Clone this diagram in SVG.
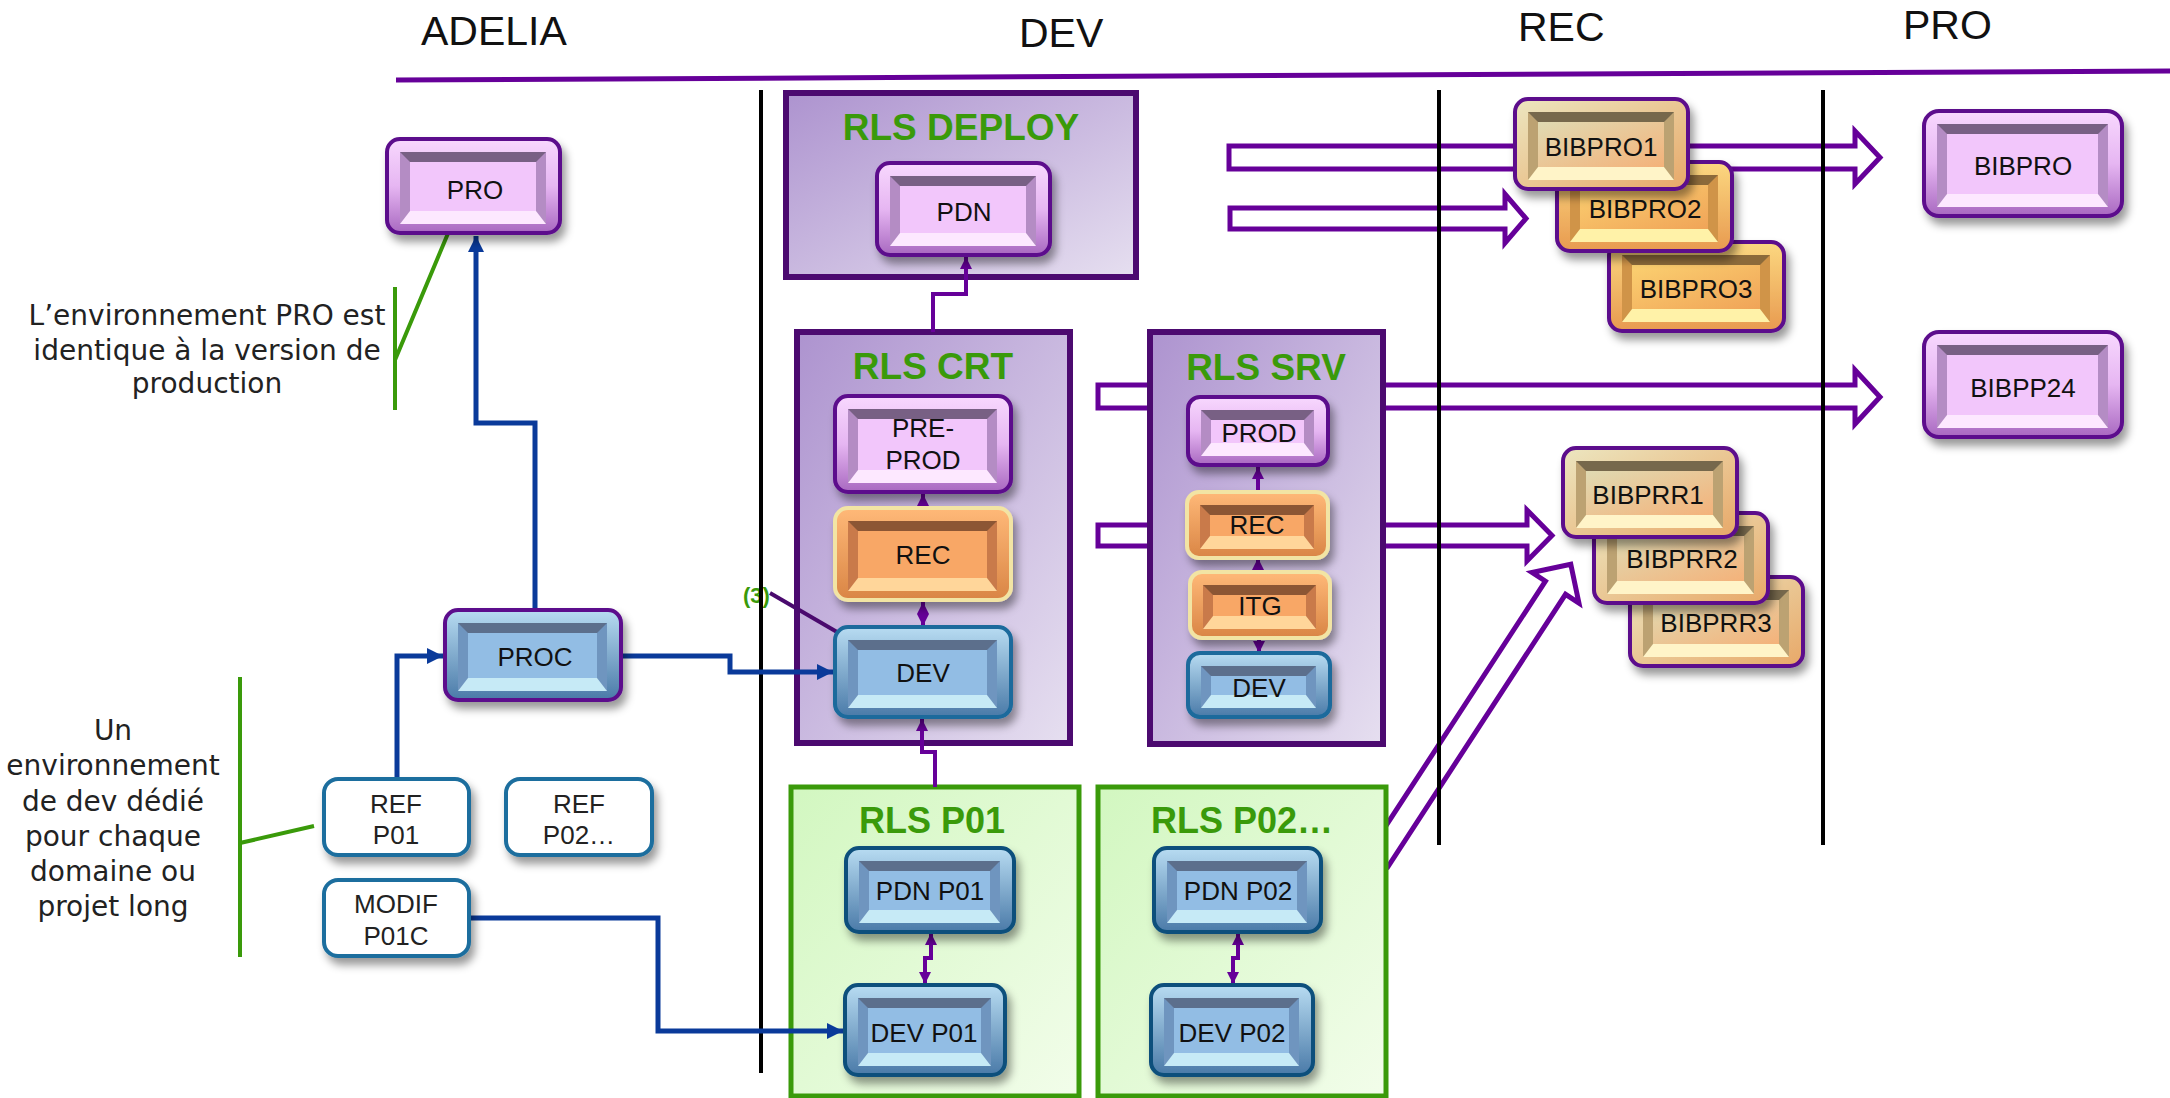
<svg xmlns="http://www.w3.org/2000/svg" width="2170" height="1098" viewBox="0 0 2170 1098">
<defs>
<style>
.hdr{font-family:"Liberation Sans",Arial,sans-serif;font-size:41px;fill:#111}
.ann{font-family:"DejaVu Sans",sans-serif;font-size:28px;fill:#222;text-anchor:middle}
.ttl{font-family:"Liberation Sans",Arial,sans-serif;font-weight:bold;font-size:37px;fill:#3a9a0a;text-anchor:middle}
.ttl2{font-size:36px}
.lbl{font-family:"Liberation Sans",Arial,sans-serif;font-size:26px;fill:#111;text-anchor:middle}
.box{fill:url(#gBox);stroke:#4c0a70;stroke-width:6}
.gbox{fill:url(#gGreen);stroke:#3a9a0a;stroke-width:5}
.o{stroke-width:4;filter:url(#sh)}
.pk .o{fill:url(#gPkO);stroke:#5c0a8c}
.pk .s{fill:#b48cc4}.pk .t{fill:#786084}.pk .b{fill:#fde8ff}.pk .f{fill:#f2c6fb}
.bl .o{fill:url(#gBlO);stroke:#1a6a9c}
.bl .s{fill:#6f95bf}.bl .t{fill:#5c6f8c}.bl .b{fill:#c6eaf6}.bl .f{fill:#92bde4}
.bd .o{stroke:#0c4f7c}
.bp .o{stroke:#5c0a8c}
.or .o{fill:url(#gOrO);stroke:#f2e4a4}
.or .s{fill:#c97a4a}.or .t{fill:#8c5634}.or .b{fill:#ffd69a}.or .f{fill:#f8a766}
.gd .o{fill:url(#gGdO);stroke:#5c0a8c}
.gd .s{fill:#d09448}.gd .t{fill:#8c6a3a}.gd .b{fill:#fff2a8}.gd .f{fill:url(#gGdF)}
.be .o{fill:url(#gBeO);stroke:#5c0a8c}
.be .s{fill:#bca272}.be .t{fill:#76684c}.be .b{fill:#fff4c8}.be .f{fill:url(#gBeF)}
.ref .o{fill:#fff;stroke:#1d6e9e}
.ref text{fill:#222}
.flow{fill:#fff;stroke:#660099;stroke-width:5}
.pc{fill:none;stroke:#660099;stroke-width:4}
.bc{fill:none;stroke:#0a3a9a;stroke-width:5}
.gl{fill:none;stroke:#3a9a0a;stroke-width:4}
.vl{stroke:#000;stroke-width:4}
</style>
<filter id="sh" x="-20%" y="-20%" width="150%" height="160%">
<feDropShadow dx="4" dy="7" stdDeviation="4" flood-color="#000" flood-opacity="0.4"/>
</filter>
<linearGradient id="gBox" x1="0" y1="0" x2="1" y2="1"><stop offset="0" stop-color="#ad93cf"/><stop offset="1" stop-color="#e6dff0"/></linearGradient>
<linearGradient id="gGreen" x1="0" y1="0" x2="1" y2="1"><stop offset="0" stop-color="#d2f7c0"/><stop offset="1" stop-color="#f2fdea"/></linearGradient>
<linearGradient id="gPkO" x1="0" y1="0" x2="0" y2="1"><stop offset="0" stop-color="#f8d8fe"/><stop offset="0.5" stop-color="#e6b6f2"/><stop offset="1" stop-color="#a868c0"/></linearGradient>
<linearGradient id="gBlO" x1="0" y1="0" x2="0" y2="1"><stop offset="0" stop-color="#b8dcf2"/><stop offset="1" stop-color="#4a7aa8"/></linearGradient>
<linearGradient id="gOrO" x1="0" y1="0" x2="0" y2="1"><stop offset="0" stop-color="#ffb978"/><stop offset="1" stop-color="#d98545"/></linearGradient>
<linearGradient id="gGdO" x1="0" y1="0" x2="0" y2="1"><stop offset="0" stop-color="#fcd880"/><stop offset="1" stop-color="#e89a50"/></linearGradient>
<linearGradient id="gGdF" x1="0" y1="0" x2="1" y2="1"><stop offset="0" stop-color="#fbd070"/><stop offset="1" stop-color="#f0a458"/></linearGradient>
<linearGradient id="gBeO" x1="0" y1="0" x2="1" y2="1"><stop offset="0" stop-color="#ece6c0"/><stop offset="1" stop-color="#e8a868"/></linearGradient>
<linearGradient id="gBeF" x1="0" y1="0" x2="1" y2="1"><stop offset="0" stop-color="#e0dab2"/><stop offset="1" stop-color="#f4b27a"/></linearGradient>
<marker id="ap" markerUnits="userSpaceOnUse" markerWidth="12" markerHeight="12" refX="12" refY="6" orient="auto-start-reverse"><path d="M0,0 L12,6 L0,12 z" fill="#660099"/></marker>
<marker id="ab" markerUnits="userSpaceOnUse" markerWidth="16" markerHeight="16" refX="16" refY="8" orient="auto"><path d="M0,0 L16,8 L0,16 z" fill="#0a3a9a"/></marker>
</defs>
<rect width="2170" height="1098" fill="#fff"/>

<g id="header">
<line x1="396" y1="80" x2="2170" y2="71" stroke="#660099" stroke-width="5"/>
<text class="hdr" x="421" y="45">ADELIA</text>
<text class="hdr" x="1019" y="47">DEV</text>
<text class="hdr" x="1518" y="41">REC</text>
<text class="hdr" x="1903" y="39">PRO</text>
</g>

<g id="flow-arrows">
<polygon class="flow" points="1229,146 1855,146 1855,131 1880,157.5 1855,184 1855,169 1229,169"/>
<polygon class="flow" points="1230,208 1505,208 1505,194 1526,218.5 1505,243 1505,229 1230,229"/>
<polygon class="flow" points="1098,385 1855,385 1855,370 1880,397 1855,424 1855,408 1098,408"/>
<polygon class="flow" points="1098,525 1527,525 1527,510 1552,535.5 1527,561 1527,546 1098,546"/>
<polygon class="flow" transform="translate(1378,860) rotate(-56.9)" points="0,-12 325,-12 325,-28 353,0 325,28 325,12 0,12"/>
</g>

<g id="annotations">
<path class="gl" d="M395 287 V410 M395 360 L449 231"/>
<path class="gl" d="M240 677 V957 M240 843 L314 826"/>
<text class="ann" x="207" y="325">L’environnement PRO est</text>
<text class="ann" x="207" y="360">identique à la version de</text>
<text class="ann" x="207" y="393">production</text>
<text class="ann" x="113" y="740">Un</text>
<text class="ann" x="113" y="775">environnement</text>
<text class="ann" x="113" y="811">de dev dédié</text>
<text class="ann" x="113" y="846">pour chaque</text>
<text class="ann" x="113" y="881">domaine ou</text>
<text class="ann" x="113" y="916">projet long</text>
<text x="743" y="603" font-family="Liberation Sans, Arial, sans-serif" font-weight="bold" font-size="22" fill="#3a9a0a">(3)</text>
</g>

<g id="lanes">
<line class="vl" x1="761" y1="90" x2="761" y2="1073"/>
<line class="vl" x1="1439" y1="90" x2="1439" y2="845"/>
<line class="vl" x1="1823" y1="90" x2="1823" y2="845"/>
</g>

<g id="rls-deploy"><rect class="box" x="786" y="93" width="350" height="184"/><text class="ttl" x="961" y="140">RLS DEPLOY</text></g>
<g id="rls-crt"><rect class="box" x="797" y="332" width="273" height="411"/><text class="ttl" x="933" y="379">RLS CRT</text></g>
<g id="rls-srv"><rect class="box" x="1150" y="332" width="233" height="412"/><text class="ttl" x="1266" y="380">RLS SRV</text></g>
<g id="rls-p01"><rect class="gbox" x="791" y="787" width="288" height="309"/><text class="ttl ttl2" x="932" y="833">RLS P01</text></g>
<g id="rls-p02"><rect class="gbox" x="1098" y="787" width="288" height="309"/><text class="ttl ttl2" x="1242" y="833">RLS P02…</text></g>

<g id="connectors">
<path class="bc" d="M535 610 V423 H476 V236" marker-end="url(#ab)"/>
<path class="bc" d="M397 779 V656 H443" marker-end="url(#ab)"/>
<path class="bc" d="M621 656 H730 V672 H833" marker-end="url(#ab)"/>
<path class="bc" d="M469 918 H658 V1031 H843" marker-end="url(#ab)"/>
<path class="pc" d="M933 332 V294 H966 V257" marker-end="url(#ap)"/>
<path class="pc" d="M935 787 V752 H922 V719" marker-end="url(#ap)"/>
<path class="pc" d="M923 508 V494" marker-end="url(#ap)"/>
<path class="pc" d="M923 602 V626" marker-start="url(#ap)" marker-end="url(#ap)"/>
<path class="pc" d="M1258 492 V467" marker-end="url(#ap)"/>
<path class="pc" d="M1258 572 V558" marker-end="url(#ap)"/>
<path class="pc" d="M1259 638 V653" marker-end="url(#ap)"/>
<path class="pc" d="M931 933 V958 H925 V984" marker-start="url(#ap)" marker-end="url(#ap)"/>
<path class="pc" d="M1238 933 V958 H1233 V984" marker-start="url(#ap)" marker-end="url(#ap)"/>
<line x1="770" y1="593" x2="837" y2="632" stroke="#4a0a6e" stroke-width="4"/>
</g>

<g id="n-pro" class="pk">
<rect class="o" x="387" y="139" width="173" height="94" rx="13"/>
<rect class="s" x="400" y="152" width="146" height="72"/>
<polygon class="t" points="400,152 546,152 536,162 410,162"/>
<polygon class="b" points="400,224 546,224 536,211 410,211"/>
<rect class="f" x="410" y="162" width="126" height="49"/>
<text class="lbl" x="475" y="199">PRO</text>
</g>

<g id="n-pdn" class="pk">
<rect class="o" x="877" y="163" width="173" height="92" rx="13"/>
<rect class="s" x="890" y="176" width="146" height="70"/>
<polygon class="t" points="890,176 1036,176 1026,186 900,186"/>
<polygon class="b" points="890,246 1036,246 1026,233 900,233"/>
<rect class="f" x="900" y="186" width="126" height="47"/>
<text class="lbl" x="964" y="221">PDN</text>
</g>

<g id="n-preprod" class="pk">
<rect class="o" x="835" y="396" width="176" height="96" rx="13"/>
<rect class="s" x="848" y="409" width="149" height="74"/>
<polygon class="t" points="848,409 997,409 987,419 858,419"/>
<polygon class="b" points="848,483 997,483 987,470 858,470"/>
<rect class="f" x="858" y="419" width="129" height="51"/>
<text class="lbl" x="923" y="437">PRE-</text>
<text class="lbl" x="923" y="469">PROD</text>
</g>

<g id="n-rec-crt" class="or">
<rect class="o" x="835" y="508" width="176" height="92" rx="13"/>
<rect class="s" x="848" y="521" width="149" height="70"/>
<polygon class="t" points="848,521 997,521 987,531 858,531"/>
<polygon class="b" points="848,591 997,591 987,578 858,578"/>
<rect class="f" x="858" y="531" width="129" height="47"/>
<text class="lbl" x="923" y="564">REC</text>
</g>

<g id="n-dev-crt" class="bl">
<rect class="o" x="835" y="627" width="176" height="90" rx="13"/>
<rect class="s" x="848" y="640" width="149" height="68"/>
<polygon class="t" points="848,640 997,640 987,650 858,650"/>
<polygon class="b" points="848,708 997,708 987,695 858,695"/>
<rect class="f" x="858" y="650" width="129" height="45"/>
<text class="lbl" x="923" y="682">DEV</text>
</g>

<g id="n-proc" class="bl bp">
<rect class="o" x="445" y="610" width="176" height="90" rx="13"/>
<rect class="s" x="458" y="623" width="149" height="68"/>
<polygon class="t" points="458,623 607,623 597,633 468,633"/>
<polygon class="b" points="458,691 607,691 597,678 468,678"/>
<rect class="f" x="468" y="633" width="129" height="45"/>
<text class="lbl" x="535" y="666">PROC</text>
</g>

<g id="n-prod-srv" class="pk">
<rect class="o" x="1188" y="397" width="140" height="68" rx="12"/>
<rect class="s" x="1201" y="410" width="113" height="46"/>
<polygon class="t" points="1201,410 1314,410 1304,420 1211,420"/>
<polygon class="b" points="1201,456 1314,456 1304,443 1211,443"/>
<rect class="f" x="1211" y="420" width="93" height="23"/>
<text class="lbl" x="1259" y="442">PROD</text>
</g>

<g id="n-rec-srv" class="or">
<rect class="o" x="1187" y="492" width="141" height="66" rx="12"/>
<rect class="s" x="1200" y="505" width="114" height="44"/>
<polygon class="t" points="1200,505 1314,505 1304,515 1210,515"/>
<polygon class="b" points="1200,549 1314,549 1304,536 1210,536"/>
<rect class="f" x="1210" y="515" width="94" height="21"/>
<text class="lbl" x="1257" y="534">REC</text>
</g>

<g id="n-itg" class="or">
<rect class="o" x="1190" y="572" width="140" height="66" rx="12"/>
<rect class="s" x="1203" y="585" width="113" height="44"/>
<polygon class="t" points="1203,585 1316,585 1306,595 1213,595"/>
<polygon class="b" points="1203,629 1316,629 1306,616 1213,616"/>
<rect class="f" x="1213" y="595" width="93" height="21"/>
<text class="lbl" x="1260" y="615">ITG</text>
</g>

<g id="n-dev-srv" class="bl">
<rect class="o" x="1188" y="653" width="142" height="64" rx="12"/>
<rect class="s" x="1201" y="666" width="115" height="42"/>
<polygon class="t" points="1201,666 1316,666 1306,676 1211,676"/>
<polygon class="b" points="1201,708 1316,708 1306,695 1211,695"/>
<rect class="f" x="1211" y="676" width="95" height="19"/>
<text class="lbl" x="1259" y="697">DEV</text>
</g>

<g id="n-bibpro3" class="gd">
<rect class="o" x="1609" y="242" width="175" height="89" rx="13"/>
<rect class="s" x="1622" y="255" width="148" height="67"/>
<polygon class="t" points="1622,255 1770,255 1760,265 1632,265"/>
<polygon class="b" points="1622,322 1770,322 1760,309 1632,309"/>
<rect class="f" x="1632" y="265" width="128" height="44"/>
<text class="lbl" x="1696" y="298">BIBPRO3</text>
</g>

<g id="n-bibpro2" class="gd">
<rect class="o" x="1557" y="162" width="175" height="89" rx="13"/>
<rect class="s" x="1570" y="175" width="148" height="67"/>
<polygon class="t" points="1570,175 1718,175 1708,185 1580,185"/>
<polygon class="b" points="1570,242 1718,242 1708,229 1580,229"/>
<rect class="f" x="1580" y="185" width="128" height="44"/>
<text class="lbl" x="1645" y="218">BIBPRO2</text>
</g>

<g id="n-bibpro1" class="be">
<rect class="o" x="1515" y="99" width="173" height="90" rx="13"/>
<rect class="s" x="1528" y="112" width="146" height="68"/>
<polygon class="t" points="1528,112 1674,112 1664,122 1538,122"/>
<polygon class="b" points="1528,180 1674,180 1664,167 1538,167"/>
<rect class="f" x="1538" y="122" width="126" height="45"/>
<text class="lbl" x="1601" y="156">BIBPRO1</text>
</g>

<g id="n-bibpro" class="pk">
<rect class="o" x="1924" y="111" width="198" height="105" rx="15"/>
<rect class="s" x="1937" y="124" width="171" height="83"/>
<polygon class="t" points="1937,124 2108,124 2098,134 1947,134"/>
<polygon class="b" points="1937,207 2108,207 2098,194 1947,194"/>
<rect class="f" x="1947" y="134" width="151" height="60"/>
<text class="lbl" x="2023" y="175">BIBPRO</text>
</g>

<g id="n-bibpp24" class="pk">
<rect class="o" x="1924" y="332" width="198" height="105" rx="15"/>
<rect class="s" x="1937" y="345" width="171" height="83"/>
<polygon class="t" points="1937,345 2108,345 2098,355 1947,355"/>
<polygon class="b" points="1937,428 2108,428 2098,415 1947,415"/>
<rect class="f" x="1947" y="355" width="151" height="60"/>
<text class="lbl" x="2023" y="397">BIBPP24</text>
</g>

<g id="n-bibprr3" class="be">
<rect class="o" x="1630" y="577" width="173" height="89" rx="13"/>
<rect class="s" x="1643" y="590" width="146" height="67"/>
<polygon class="t" points="1643,590 1789,590 1779,600 1653,600"/>
<polygon class="b" points="1643,657 1789,657 1779,644 1653,644"/>
<rect class="f" x="1653" y="600" width="126" height="44"/>
<text class="lbl" x="1716" y="632">BIBPRR3</text>
</g>

<g id="n-bibprr2" class="be">
<rect class="o" x="1594" y="513" width="174" height="90" rx="13"/>
<rect class="s" x="1607" y="526" width="147" height="68"/>
<polygon class="t" points="1607,526 1754,526 1744,536 1617,536"/>
<polygon class="b" points="1607,594 1754,594 1744,581 1617,581"/>
<rect class="f" x="1617" y="536" width="127" height="45"/>
<text class="lbl" x="1682" y="568">BIBPRR2</text>
</g>

<g id="n-bibprr1" class="be">
<rect class="o" x="1563" y="448" width="174" height="89" rx="13"/>
<rect class="s" x="1576" y="461" width="147" height="67"/>
<polygon class="t" points="1576,461 1723,461 1713,471 1586,471"/>
<polygon class="b" points="1576,528 1723,528 1713,515 1586,515"/>
<rect class="f" x="1586" y="471" width="127" height="44"/>
<text class="lbl" x="1648" y="504">BIBPRR1</text>
</g>

<g id="n-pdn-p01" class="bl bd">
<rect class="o" x="846" y="848" width="168" height="84" rx="13"/>
<rect class="s" x="859" y="861" width="141" height="62"/>
<polygon class="t" points="859,861 1000,861 990,871 869,871"/>
<polygon class="b" points="859,923 1000,923 990,910 869,910"/>
<rect class="f" x="869" y="871" width="121" height="39"/>
<text class="lbl" x="930" y="900">PDN P01</text>
</g>

<g id="n-dev-p01" class="bl bd">
<rect class="o" x="845" y="985" width="160" height="90" rx="13"/>
<rect class="s" x="858" y="998" width="133" height="68"/>
<polygon class="t" points="858,998 991,998 981,1008 868,1008"/>
<polygon class="b" points="858,1066 991,1066 981,1053 868,1053"/>
<rect class="f" x="868" y="1008" width="113" height="45"/>
<text class="lbl" x="924" y="1042">DEV P01</text>
</g>

<g id="n-pdn-p02" class="bl bd">
<rect class="o" x="1154" y="848" width="167" height="84" rx="13"/>
<rect class="s" x="1167" y="861" width="140" height="62"/>
<polygon class="t" points="1167,861 1307,861 1297,871 1177,871"/>
<polygon class="b" points="1167,923 1307,923 1297,910 1177,910"/>
<rect class="f" x="1177" y="871" width="120" height="39"/>
<text class="lbl" x="1238" y="900">PDN P02</text>
</g>

<g id="n-dev-p02" class="bl bd">
<rect class="o" x="1151" y="985" width="162" height="90" rx="13"/>
<rect class="s" x="1164" y="998" width="135" height="68"/>
<polygon class="t" points="1164,998 1299,998 1289,1008 1174,1008"/>
<polygon class="b" points="1164,1066 1299,1066 1289,1053 1174,1053"/>
<rect class="f" x="1174" y="1008" width="115" height="45"/>
<text class="lbl" x="1232" y="1042">DEV P02</text>
</g>

<g id="n-ref-p01" class="ref">
<rect class="o" x="324" y="779" width="145" height="76" rx="14"/>
<text class="lbl" x="396" y="813">REF</text>
<text class="lbl" x="396" y="844">P01</text>
</g>

<g id="n-ref-p02" class="ref">
<rect class="o" x="506" y="779" width="146" height="76" rx="14"/>
<text class="lbl" x="579" y="813">REF</text>
<text class="lbl" x="579" y="844">P02…</text>
</g>

<g id="n-modif-p01c" class="ref">
<rect class="o" x="324" y="880" width="145" height="76" rx="14"/>
<text class="lbl" x="396" y="913">MODIF</text>
<text class="lbl" x="396" y="945">P01C</text>
</g>
</svg>
